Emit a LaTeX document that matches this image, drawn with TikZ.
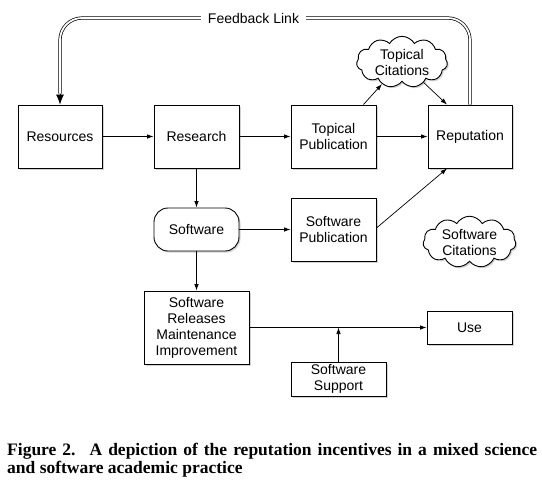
\documentclass[tikz,border=0pt]{standalone}
\usepackage{fontspec}
\setmainfont{Liberation Sans}
\newfontfamily\capfont{Liberation Serif}
\usetikzlibrary{positioning}
\usetikzlibrary{arrows.meta}
\usetikzlibrary{shapes.symbols}
\usetikzlibrary{shadows}

\begin{document}
\begin{tikzpicture}[x = 1pt, y = -1pt,
					font = \fontsize{14pt}{16pt}\selectfont,
					>={Latex[length = 6.5pt, width = 4.5pt]},
					shade/.style = {drop shadow = {opacity = 0.35, shadow xshift = 1.5pt, shadow yshift = -1.5pt}},
					box/.style = {draw, fill = white, line width = 0.9pt, align = center, inner sep = 2pt, shade},
					cloudbox/.style = {cloud, cloud puffs = 11, cloud puff arc = 120, cloud ignores aspect, draw, fill = white, line width = 0.9pt, align = center, inner sep = 1pt, shade},
					link/.style = {black, ->, line width = 0.7pt}]
					\useasboundingbox (0, 0) rectangle (542, 483);
					\node[box, minimum width = 84pt, minimum height = 63pt] (res) at (60, 136.5) {Resources};
					\node[box, minimum width = 85pt, minimum height = 63pt] (rsch) at (196.5, 136.5) {Research};
					\node[box, minimum width = 85pt, minimum height = 63pt] (tpub) at (333.5, 136.5) {Topical\\Publication};
					\node[box, minimum width = 84pt, minimum height = 63pt] (rep) at (470, 136.5) {Reputation};
					\node[box, rounded corners = 14pt, minimum width = 85pt, minimum height = 43pt] (sw) at (196.5, 229.5) {Software};
					\node[box, minimum width = 85pt, minimum height = 63pt] (spub) at (333.5, 229.5) {Software\\Publication};
					\node[cloudbox, minimum width = 91pt, minimum height = 42pt] (tcit) at (402, 62) {Topical\\Citations};
					\node[cloudbox, minimum width = 93pt, minimum height = 42pt] (scit) at (469.5, 242) {Software\\Citations};
					\node[box, minimum width = 105pt, minimum height = 73pt] (rel) at (196.5, 327.5) {Software\\Releases\\Maintenance\\Improvement};
					\node[box, minimum width = 85pt, minimum height = 33pt] (use) at (469.5, 327.5) {Use};
					\node[box, minimum width = 95pt, minimum height = 34pt] (sup) at (338.5, 379) {Software\\Support};
					\node[inner xsep = 7pt] (fb) at (253.5, 18) {Feedback Link};
					\coordinate (fbend) at ([yshift = 11pt]res.north);
					\draw[line width = 0.7pt, double = white, double distance = 1.8pt, rounded corners = 22pt] (rep.north) |- (fb.east);
					\draw[line width = 0.7pt, double = white, double distance = 1.8pt, rounded corners = 22pt] (fb.west) -| (fbend);
					\draw[black, -{Latex[length = 10pt, width = 8pt]}, line width = 0.7pt] (fbend) -- (res.north);
					\draw[link] (res) -- (rsch);
					\draw[link] (rsch) -- (tpub);
					\draw[link] (tpub) -- (rep);
					\draw[link] (rsch) -- (sw);
					\draw[link] (sw) -- (spub);
					\draw[link] (sw) -- (rel);
					\draw[link] (rel) -- (use);
					\draw[link] (sup.north) -- (sup.north |- rel.east);
					\draw[link] ([xshift = -13pt]tpub.north east) -- (tcit);
					\draw[link] (tcit) -- ([xshift = -23pt]rep.north);
					\draw[link] ([yshift = 1.5pt]spub.east) -- ([xshift = -23pt]rep.south);
					\node[anchor = north west, text width = 530pt, align = justify, inner sep = 0pt, font = \capfont\bfseries\fontsize{17.5pt}{18pt}\selectfont] (cap) at (7, 443) {Figure 2.\hspace{0.8em}A depiction of the reputation incentives in a mixed science\linebreak and software academic practice};
				\end{tikzpicture}
\end{document}
